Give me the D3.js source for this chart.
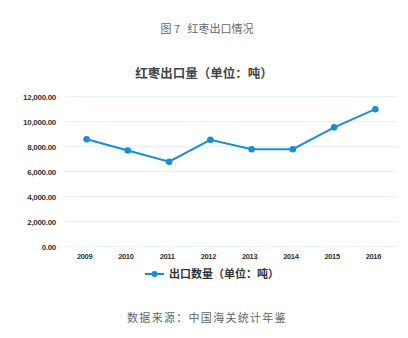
<!DOCTYPE html>
<html>
<head>
<meta charset="utf-8">
<script src="https://cdn.jsdelivr.net/npm/d3@7"></script>
<style>
  html, body { margin: 0; padding: 0; background: #fff; }
  svg { display: block; }
  svg text { white-space: pre; }
</style>
</head>
<body>
<svg id="chart" width="408" height="338"></svg>
<script>
// Jujube export volume, tonnes
const years = ["2009", "2010", "2011", "2012", "2013", "2014", "2015", "2016"];
const exportTons = [8600, 7700, 6800, 8550, 7800, 7800, 9550, 11000];
const yTicks = [0, 2000, 4000, 6000, 8000, 10000, 12000];

const caption = "图 7   红枣出口情况";
const chartTitle = "红枣出口量（单位：吨）";
const seriesName = "出口数量（单位：吨）";
const sourceNote = "数据来源：中国海关统计年鉴";

const svg = d3.select("#chart");
const cjk = "'Noto Sans CJK SC', 'Noto Sans', sans-serif";
const lineColor = "#1a8ed4";

const x = d3.scaleBand().domain(years).range([66, 396]);
const y = d3.scaleLinear().domain([0, 12000]).range([246.7, 96.7]);

// caption above the chart
svg.append("text").attr("x", 207).attr("y", 33)
  .attr("text-anchor", "middle").attr("font-family", cjk)
  .attr("font-size", 11).attr("fill", "#666").text(caption);

// chart title
svg.append("text").attr("x", 204).attr("y", 78)
  .attr("text-anchor", "middle").attr("font-family", cjk)
  .attr("font-size", 12.5).attr("font-weight", "bold").attr("fill", "#444")
  .text(chartTitle);

// horizontal gridlines
svg.append("g").selectAll("line").data(yTicks).join("line")
  .attr("x1", 65).attr("x2", 397)
  .attr("y1", d => y(d)).attr("y2", d => y(d))
  .attr("stroke", "#e1f0f9").attr("stroke-width", 1);

// y axis labels
const yAxis = d3.axisLeft(y).tickValues(yTicks)
  .tickFormat(d3.format(",.2f")).tickSize(0).tickPadding(0);
const gy = svg.append("g").attr("transform", "translate(56,0)").call(yAxis);
gy.select(".domain").remove();
gy.selectAll("text").attr("font-family", "Arial, 'Liberation Sans', sans-serif")
  .attr("font-size", 8).attr("fill", "#333").attr("font-weight", "bold")
  .attr("letter-spacing", "-0.3");

// x axis labels
const xAxis = d3.axisBottom(x).tickSize(0).tickPadding(0);
const gx = svg.append("g").attr("transform", "translate(-2,254)").call(xAxis);
gx.select(".domain").remove();
gx.selectAll("text").attr("font-family", "Arial, 'Liberation Sans', sans-serif")
  .attr("font-size", 7.5).attr("fill", "#333").attr("font-weight", "bold")
  .attr("letter-spacing", "-0.4");

const cx = d => x(d) + x.bandwidth() / 2;
const data = years.map((yr, i) => ({ yr, v: exportTons[i] }));

// series line
svg.append("path").datum(data)
  .attr("fill", "none").attr("stroke", lineColor).attr("stroke-width", 2)
  .attr("d", d3.line().x(d => cx(d.yr)).y(d => y(d.v)));

// markers
svg.append("g").selectAll("circle").data(data).join("circle")
  .attr("cx", d => cx(d.yr)).attr("cy", d => y(d.v)).attr("r", 3.3)
  .attr("fill", lineColor);

// legend
const lg = svg.append("g").attr("transform", "translate(145,274)");
lg.append("line").attr("x1", 0).attr("x2", 19).attr("y1", 0).attr("y2", 0)
  .attr("stroke", lineColor).attr("stroke-width", 2);
lg.append("circle").attr("cx", 9.5).attr("cy", 0).attr("r", 3).attr("fill", lineColor);
lg.append("text").attr("x", 24).attr("y", 4)
  .attr("font-family", cjk).attr("font-size", 11).attr("font-weight", "bold")
  .attr("fill", "#333").text(seriesName);

// source note
svg.append("text").attr("x", 207).attr("y", 322)
  .attr("text-anchor", "middle").attr("font-family", cjk)
  .attr("font-size", 11).attr("fill", "#666").attr("letter-spacing", "1.3")
  .text(sourceNote);
</script>
</body>
</html>
